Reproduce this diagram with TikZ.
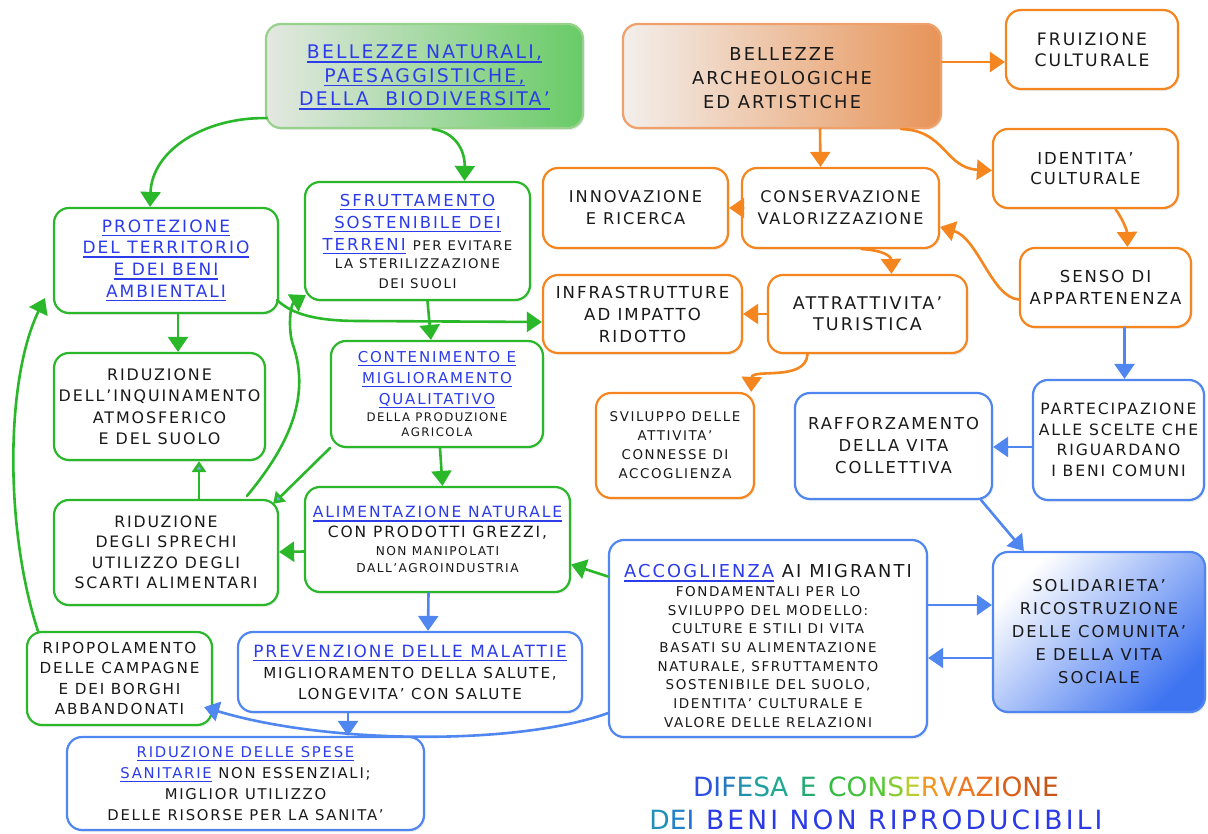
\documentclass[tikz,border=0pt]{standalone}
\usepackage{fontspec}
\setmainfont{DejaVu Sans}[LetterSpace=12]
\usetikzlibrary{arrows.meta,calc,shadows}
\definecolor{gline}{RGB}{42,183,42}
\definecolor{oline}{RGB}{245,134,31}
\definecolor{bline}{RGB}{79,134,240}
\definecolor{tblue}{RGB}{45,60,235}
\definecolor{txt}{RGB}{25,25,25}
\definecolor{lblue}{RGB}{120,170,225}
\definecolor{gbord}{RGB}{150,210,140}
\definecolor{gL}{RGB}{228,232,226}
\definecolor{gR}{RGB}{104,203,102}
\definecolor{obord}{RGB}{240,160,105}
\definecolor{oL}{RGB}{243,239,236}
\definecolor{oR}{RGB}{231,148,88}
\definecolor{sB}{RGB}{63,116,240}
\newcommand\fs[2]{\fontsize{#1}{#2}\selectfont}
\newcommand\bu[1]{{\color{tblue}\sbox0{#1}\rlap{\rule[-4pt]{\wd0}{1.5pt}}\usebox0}}
\newcommand\cl[2]{{\color[HTML]{#1}#2}}
\begin{document}
\begin{tikzpicture}[x=1pt,y=-1pt,
  box/.style={draw, line width=2.2pt, rounded corners=15pt, fill=white, inner sep=0pt, align=center, text=txt,
    drop shadow={opacity=0.15, shadow xshift=1.5pt, shadow yshift=-2pt}},
  gb/.style={box, draw=gline},
  ob/.style={box, draw=oline},
  bb/.style={box, draw=bline},
  sz/.style 2 args={minimum width=#1pt, minimum height=#2pt},
  gtopst/.style={box, draw=gbord, left color=gL, right color=gR},
  otopst/.style={box, draw=obord, left color=oL, right color=oR},
  solidst/.style={box, draw=bline, shading=axis, top color=white, bottom color=sB, shading angle=45},
  con/.style={line width=2.6pt, line cap=round, -{Triangle[length=15pt,width=20pt]}},
  gc/.style={con, color=gline},
  gcs/.style={line width=2.6pt, line cap=round, color=gline, -{Triangle[length=11pt,width=14pt,fill=lblue]}},
  oc/.style={con, color=oline},
  bc/.style={con, color=bline}]
\fill[white] (0,0) rectangle (1208,834);
\useasboundingbox (0,0) rectangle (1208,834);

% top boxes
\node[gtopst, sz={317}{104}, font={\fs{18.8}{23.5}}] (gtop) at (424.5,76) {\rule{0pt}{17pt}\bu{BELLEZZE NATURALI,}\\\bu{PAESAGGISTICHE,}\\\bu{DELLA~~BIODIVERSITA’}};
\node[otopst, sz={318}{104}, font={\fs{17.8}{24}}] (otop) at (782,76) {\rule{0pt}{18pt}BELLEZZE\\ARCHEOLOGICHE\\ED ARTISTICHE};

% orange boxes
\node[ob, sz={172}{79}, font={\fs{17.2}{21}}] (frui) at (1092,49.5) {FRUIZIONE\\CULTURALE};
\node[ob, sz={185}{79}, font={\fs{16.5}{20}}] (ident) at (1085.5,168.5) {IDENTITA’\\CULTURALE};
\node[ob, sz={171}{79}, font={\fs{16.5}{22}}] (senso) at (1105.5,287.5) {SENSO DI\\APPARTENENZA};
\node[ob, sz={185}{80}, font={\fs{16.2}{22}}] (innov) at (635.5,208) {INNOVAZIONE\\E RICERCA};
\node[ob, sz={197}{80}, font={\fs{16}{22}}] (cons) at (840.5,208) {CONSERVAZIONE\\VALORIZZAZIONE};
\node[ob, sz={199}{78}, font={\fs{16.6}{22}}] (infra) at (642.5,314) {INFRASTRUTTURE\\AD IMPATTO\\RIDOTTO};
\node[ob, sz={199}{78}, font={\fs{17.5}{21}}] (attr) at (867.5,314) {ATTRATTIVITA’\\TURISTICA};
\node[ob, sz={158}{105}, font={\fs{13.4}{19}}] (svil) at (675,445.5) {SVILUPPO DELLE\\ATTIVITA’\\CONNESSE DI\\ACCOGLIENZA};

% blue boxes
\node[bb, sz={197}{106}, font={\fs{16.4}{22}}] (raff) at (893.5,446) {RAFFORZAMENTO\\DELLA VITA\\COLLETTIVA};
\node[bb, sz={171}{120}, font={\fs{15.6}{20.5}}] (partec) at (1118.5,440) {PARTECIPAZIONE\\ALLE SCELTE CHE\\RIGUARDANO\\I BENI COMUNI};
\node[solidst, sz={212}{160}, font={\fs{16.3}{23}}] (solid) at (1099,632) {SOLIDARIETA’\\RICOSTRUZIONE\\DELLE COMUNITA’\\E DELLA VITA\\SOCIALE};
\node[bb, sz={318}{197}, font={\fs{13.5}{18.7}}] (accog) at (768,638.5) {{\fs{17.8}{21}\rule{0pt}{28pt}\bu{ACCOGLIENZA} AI MIGRANTI}\\FONDAMENTALI PER LO\\SVILUPPO DEL MODELLO:\\CULTURE E STILI DI VITA\\BASATI SU ALIMENTAZIONE\\NATURALE, SFRUTTAMENTO\\SOSTENIBILE DEL SUOLO,\\IDENTITA’ CULTURALE E\\VALORE DELLE RELAZIONI};
\node[bb, sz={344}{80}, font={\fs{15.1}{21}}] (prev) at (410,672) {{\fs{16.9}{21}\bu{PREVENZIONE DELLE MALATTIE}}\\MIGLIORAMENTO DELLA SALUTE,\\LONGEVITA’ CON SALUTE};
\node[bb, sz={357}{93}, font={\fs{14.8}{21}}] (spese) at (245.5,783.5) {\bu{RIDUZIONE DELLE SPESE}\\\bu{SANITARIE} NON ESSENZIALI;\\MIGLIOR UTILIZZO\\DELLE RISORSE PER LA SANITA’};

% green boxes
\node[gb, sz={224}{105}, font={\fs{17}{21.7}}] (prot) at (166,260.5) {\bu{PROTEZIONE}\\\bu{DEL TERRITORIO}\\\bu{E DEI BENI}\\\bu{AMBIENTALI}};
\node[gb, sz={225}{118}, font={\fs{16.5}{22}}] (sfrut) at (417.5,241) {\bu{SFRUTTAMENTO}\\\bu{SOSTENIBILE DEI}\\\bu{TERRENI} {\fs{13.3}{17}PER EVITARE}\\[-4pt]\fs{13.3}{17}LA STERILIZZAZIONE\\[-2pt]\fs{13.3}{17}DEI SUOLI};
\node[gb, sz={211}{107}, font={\fs{15.9}{21.5}}] (rinq) at (159.5,406.5) {RIDUZIONE\\DELL’INQUINAMENTO\\ATMOSFERICO\\E DEL SUOLO};
\node[gb, sz={212}{106}, font={\fs{15}{21}}] (cont) at (437,394) {\bu{CONTENIMENTO E}\\\bu{MIGLIORAMENTO}\\\bu{QUALITATIVO}\\[-4pt]\fs{11.8}{15}DELLA PRODUZIONE\\[-6pt]\fs{11.8}{15}AGRICOLA};
\node[gb, sz={224}{105}, font={\fs{15.7}{20.5}}] (rspr) at (166,552.5) {RIDUZIONE\\DEGLI SPRECHI\\UTILIZZO DEGLI\\SCARTI ALIMENTARI};
\node[gb, sz={265}{105}, font={\fs{15.5}{20}}] (alim) at (437.5,539.5) {\bu{ALIMENTAZIONE NATURALE}\\CON PRODOTTI GREZZI,\\[-2pt]\fs{12.2}{17}NON MANIPOLATI\\[-3pt]\fs{12.2}{17}DALL’AGROINDUSTRIA};
\node[gb, sz={185}{93}, font={\fs{15.2}{20.5}}] (ripop) at (119.5,678.5) {RIPOPOLAMENTO\\DELLE CAMPAGNE\\E DEI BORGHI\\ABBANDONATI};

% title
\node[align=center, font={\fs{26.5}{33}}, text=tblue] (title) at (876,803) {\cl{2B50E0}{D}\cl{2860D0}{I}\cl{2478C0}{F}\cl{2090B0}{E}\cl{20A0A0}{S}\cl{20A890}{A} \cl{22AA70}{E} \cl{33BB44}{C}\cl{44C040}{O}\cl{55C833}{N}\cl{88CC33}{S}\cl{BBCC33}{E}\cl{EE9922}{R}\cl{F08822}{V}\cl{EE7722}{A}\cl{E87020}{Z}\cl{E06618}{I}\cl{D86018}{O}\cl{D05A18}{N}\cl{C85515}{E}\\\cl{2090B8}{D}\cl{2080C8}{E}\cl{2070D8}{I} \cl{2A3AE8}{BENI NON RIPRODUCIBILI}};

% green connectors
\draw[gc] ($(gtop.south west)+(2,-11)$) .. controls (205,117) and (152,150) .. ($(prot.north)+(-16,0)$);
\draw[gc] ($(gtop.south)+(8,0)$) .. controls (455,132) and (465,150) .. ($(sfrut.north)+(47,0)$);
\draw[gc] ($(prot.south)+(12,0)$) -- ($(rinq.north)+(18.5,0)$);
\draw[gc] ($(prot.south east)+(-2,-14)$) .. controls (292,314) and (315,321) .. (360,321) -- ($(infra.west)+(0,8)$);
\draw[gc] ($(sfrut.south)+(10,0)$) -- ($(cont.north)+(-6,0)$);
\draw[gc] ($(cont.south)+(3,0)$) -- ($(alim.north)+(5,0)$);
\draw[gc] ($(alim.west)+(0,12)$) -- ($(rspr.east)+(0,-0.5)$);
\draw[gcs] ($(rspr.north)+(33,0)$) -- ($(rinq.south)+(39.5,0)$);
\draw[gcs] (cont.south west) -- ($(rspr.north east)+(-6,5)$);
\draw[gc] ($(rspr.north)+(81,-3)$) .. controls (285,450) and (312,400) .. (293,345) .. controls (288,330) and (290,305) .. ($(sfrut.south west)+(2,-6)$);
\draw[gc] ($(ripop.north west)+(12,0)$) .. controls (5,530) and (5,380) .. ($(prot.south west)+(-8,-16)$);
\draw[gc] ($(accog.west)+(0,-62)$) -- ($(alim.east)+(0,25)$);

% orange connectors
\draw[oc] ($(otop.east)+(0,-14)$) -- ($(frui.west)+(0,12.5)$);
\draw[oc] ($(otop.south east)+(-41,0)$) .. controls (945,130) and (945,168) .. ($(ident.west)+(0,2)$);
\draw[oc] ($(otop.south)+(38,0)$) -- ($(cons.north)+(-20,0)$);
\draw[oc] (cons.west) -- (innov.east);
\draw[oc] ($(ident.south)+(30,0)$) .. controls (1122,218) and (1127,230) .. ($(senso.north)+(22,0)$);
\draw[oc] ($(senso.west)+(0,12)$) .. controls (992,298) and (978,238) .. ($(cons.east)+(0,19)$);
\draw[oc] ($(cons.south)+(21,0)$) .. controls (882,250) and (891,256) .. ($(attr.north)+(24,0)$);
\draw[oc] (attr.west) -- (infra.east);
\draw[oc] ($(attr.south)+(-60,0)$) .. controls (806,382) and (752,368) .. ($(svil.north east)+(-4,0)$);

% blue connectors
\draw[bc] ($(senso.south)+(19,0)$) -- ($(partec.north)+(6,0)$);
\draw[bc] ($(partec.west)+(0,7)$) -- ($(raff.east)+(0,1)$);
\draw[bc] ($(raff.south east)+(-12,0)$) -- ($(solid.north west)+(32,0)$);
\draw[bc] ($(accog.east)+(0,-33.5)$) -- ($(solid.west)+(0,-27)$);
\draw[bc] ($(solid.west)+(0,26)$) -- ($(accog.east)+(0,19.5)$);
\draw[bc] ($(alim.south)+(-9,0)$) -- ($(prev.north)+(18,0)$);
\draw[bc] ($(prev.south)+(-62,0)$) -- ($(spese.north)+(102.5,0)$);
\draw[bc] ($(accog.south west)+(0,-25)$) .. controls (520,745) and (330,745) .. ($(ripop.south east)+(-9,-19)$);
\end{tikzpicture}
\end{document}
